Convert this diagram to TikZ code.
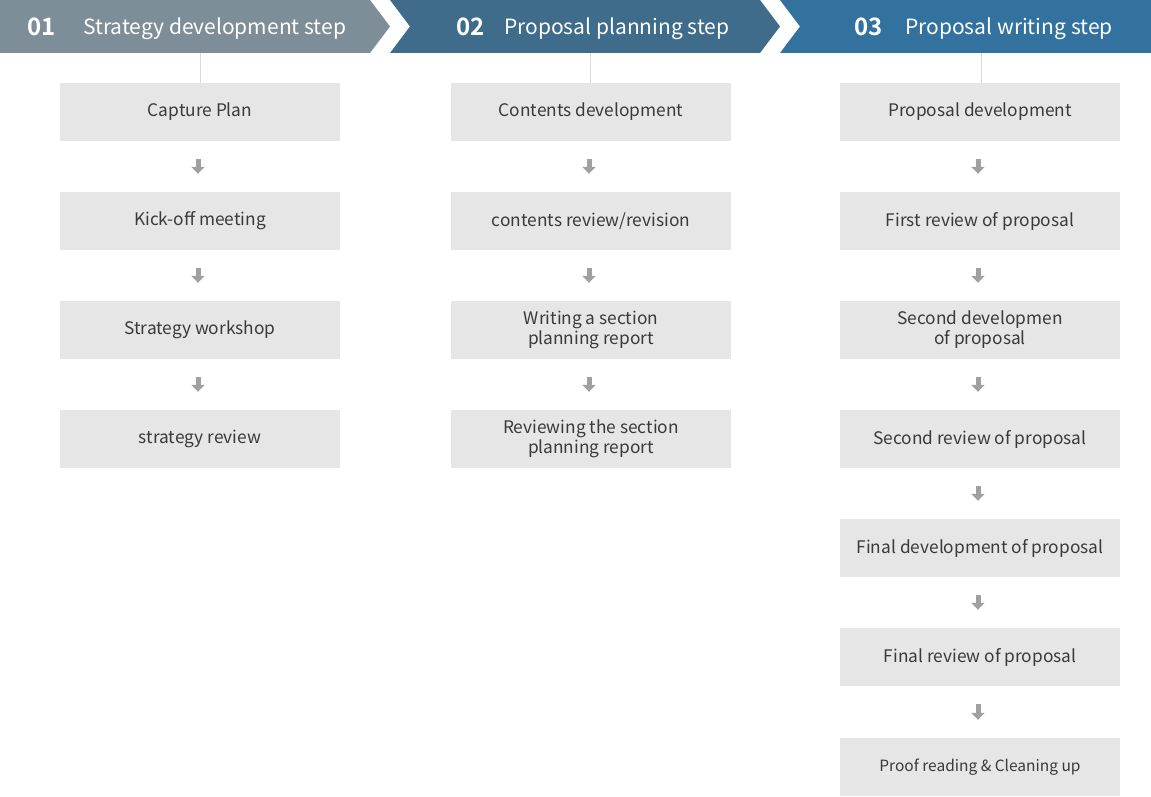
\documentclass[tikz,border=0pt]{standalone}
\usepackage{fontspec}
\setmainfont{Noto Sans CJK KR}[BoldFont={Noto Sans CJK KR Bold}]
\usetikzlibrary{arrows.meta}
\definecolor{hdrA}{HTML}{7E8E99}
\definecolor{hdrB}{HTML}{3E6C8A}
\definecolor{hdrC}{HTML}{33729F}
\definecolor{boxfill}{HTML}{E6E6E6}
\definecolor{boxtext}{HTML}{3A3A3A}
\definecolor{arrowgray}{HTML}{A0A0A0}
\definecolor{linegray}{HTML}{DADADA}

\begin{document}
\begin{tikzpicture}[x=1pt,y=-1pt,
  stepbox/.style={fill=boxfill, minimum width=280pt, minimum height=58pt,
    inner sep=0pt, align=center, text=boxtext,
    font=\fontsize{17.3}{20}\selectfont},
  smallbox/.style={stepbox, font=\fontsize{15.5}{18}\selectfont},
  flow/.style={draw=arrowgray, line width=5pt,
    -{Triangle[width=13pt,length=7pt]}, shorten <=18pt, shorten >=18pt},
  stem/.style={draw=linegray, line width=1pt},
  hnum/.style={anchor=base west, text=white, inner sep=0pt,
    font=\bfseries\fontsize{24}{24}\selectfont},
  htitle/.style={anchor=base west, text=white, inner sep=0pt,
    font=\fontsize{21}{21}\selectfont}
]
\useasboundingbox (0,0) rectangle (1151,797);

% chevron header band
\fill[hdrA] (0,0) -- (370,0) -- (390,26.5) -- (370,53) -- (0,53) -- cycle;
\fill[hdrB] (390,0) -- (760,0) -- (780,26.5) -- (760,53) -- (390,53) -- (410,26.5) -- cycle;
\fill[hdrC] (780,0) -- (1151,0) -- (1151,53) -- (780,53) -- (800,26.5) -- cycle;

\node[hnum] (n1) at (27,35.5) {01};
\node[htitle] (t1) at (83,34.5) {Strategy development step};
\node[hnum] (n2) at (456,35.5) {02};
\node[htitle] (t2) at (504,34.5) {Proposal planning step};
\node[hnum] (n3) at (854,35.5) {03};
\node[htitle] (t3) at (905,34.5) {Proposal writing step};

\coordinate (h1) at (200,53);
\coordinate (h2) at (590,53);
\coordinate (h3) at (981,53);

% column 1
\node[stepbox] (a1) at (200,112) {Capture Plan};
\node[stepbox] (a2) at (200,221) {Kick-off meeting};
\node[stepbox] (a3) at (200,330) {Strategy workshop};
\node[stepbox] (a4) at (200,439) {strategy review};

% column 2
\node[stepbox] (b1) at (591,112) {Contents development};
\node[stepbox] (b2) at (591,221) {contents review/revision};
\node[stepbox] (b3) at (591,330) {Writing a section\\planning report};
\node[stepbox] (b4) at (591,439) {Reviewing the section\\planning report};

% column 3
\node[stepbox] (c1) at (980,112) {Proposal development};
\node[stepbox] (c2) at (980,221) {First review of proposal};
\node[stepbox] (c3) at (980,330) {Second developmen\\of proposal};
\node[stepbox] (c4) at (980,439) {Second review of proposal};
\node[stepbox] (c5) at (980,548) {Final development of proposal};
\node[stepbox] (c6) at (980,657) {Final review of proposal};
\node[smallbox] (c7) at (980,767) {Proof reading \& Cleaning up};

% header stems
\draw[stem] (h1) -- (a1.north -| h1);
\draw[stem] (h2) -- (b1.north -| h2);
\draw[stem] (h3) -- (c1.north -| h3);

% flow arrows
\foreach \p/\q in {a1/a2,a2/a3,a3/a4,b1/b2,b2/b3,b3/b4,c1/c2,c2/c3,c3/c4,c4/c5,c5/c6,c6/c7}
  \draw[flow] ([xshift=-2pt]\p.south) -- ([xshift=-2pt]\q.north);
\end{tikzpicture}
\end{document}
